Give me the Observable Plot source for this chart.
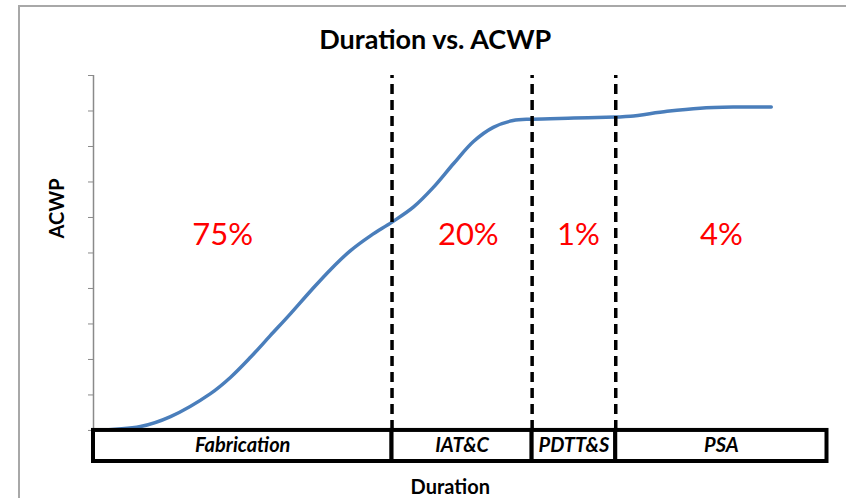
<!DOCTYPE html>
<html>
<head>
<meta charset="utf-8">
<script src="https://cdn.jsdelivr.net/npm/d3@7"></script>
<script src="https://cdn.jsdelivr.net/npm/@observablehq/plot@0.6"></script>
<style>
  html, body { margin: 0; padding: 0; background: #fff; }
  #wrap { position: relative; width: 846px; height: 498px; overflow: hidden; }
  #frame { position: absolute; left: 18px; top: 5px; width: 840px; height: 500px;
           border-top: 2px solid #a8a8a8; border-left: 2px solid #a8a8a8; box-sizing: border-box; }
  #chart { position: absolute; left: 0; top: 0; }
</style>
</head>
<body>
<div id="wrap"><div id="frame"></div><div id="chart"></div></div>
<script>
// Curve (duration in % of total span, ACWP in % of max axis)
const durationX = [0, 6.4, 10.5, 15.9, 18.7, 21.4, 24.1, 26.9, 29.6, 32.3, 35.0, 37.8, 40.7, 43.6, 46.3, 49.1, 51.8, 54.5, 57.2, 59.8, 65.5, 71.1, 73.2, 78.2, 82.7, 87.2, 92.4];
const acwpY     = [0, 1.1, 3.9, 10.3, 15.0, 20.6, 26.7, 33.0, 39.3, 45.3, 50.6, 54.9, 58.7, 62.9, 68.4, 75.2, 81.4, 85.4, 87.3, 87.7, 88.0, 88.3, 88.5, 89.9, 90.8, 91.1, 91.1];

// Phases
const phases     = ["Fabrication", "IAT&C", "PDTT&S", "PSA"];
const phaseStart = [0, 40.7, 59.8, 71.2];
const phaseEnd   = [40.7, 59.8, 71.2, 100];
const phaseShare = ["75%", "20%", "1%", "4%"];
const shareX     = [17.6, 51.1, 66.1, 85.6];
const shareY     = [55, 55, 55, 55];
const boundaries = [40.7, 59.8, 71.2];

const yTicks = [0, 10, 20, 30, 40, 50, 60, 70, 80, 90, 100];
const yMin = -8.75;

const curve = durationX.map((x, i) => ({x, y: acwpY[i]}));
const idx = phases.map((_, i) => i);

const font = "Lato, 'Open Sans', sans-serif";

const chart = Plot.plot({
  width: 846,
  height: 498,
  marginLeft: 93,
  marginRight: 19.5,
  marginTop: 75,
  marginBottom: 37,
  style: {fontFamily: font, background: "transparent", overflow: "visible"},
  x: {domain: [0, 100], axis: null},
  y: {domain: [yMin, 100]},
  marks: [
    Plot.axisY(yTicks, {tickSize: 5, tickFormat: () => "", stroke: "#8a8a8a", label: null}),
    Plot.ruleX([0], {y1: 0, y2: 100, stroke: "#8a8a8a", strokeWidth: 1.5}),
    Plot.line(curve, {x: "x", y: "y", curve: "catmull-rom", stroke: "#4a7ebb", strokeWidth: 3.5, strokeLinecap: "round"}),
    Plot.ruleX(boundaries, {y1: 0, y2: 100, stroke: "#000", strokeWidth: 3.5, strokeDasharray: "10,6"}),
    Plot.rect(idx, {x1: i => phaseStart[i], x2: i => phaseEnd[i], y1: () => yMin, y2: () => 0,
      fill: "#fff", stroke: "#000", strokeWidth: 4}),
    Plot.text(idx, {x: i => (phaseStart[i] + phaseEnd[i]) / 2, y: () => yMin / 2, text: i => phases[i],
      fontSize: 20, fontWeight: "bold", fontStyle: "italic", fill: "#000"}),
    Plot.text(idx, {x: i => shareX[i], y: i => shareY[i], text: i => phaseShare[i],
      fontSize: 31, fontWeight: "normal", fill: "#ff0000"}),
    Plot.text(["Duration vs. ACWP"], {frameAnchor: "top", lineAnchor: "middle", dx: -25, dy: -35,
      fontSize: 27, fontWeight: "bold", fill: "#000"}),
    Plot.text(["Duration"], {frameAnchor: "bottom", lineAnchor: "middle", dx: -10, dy: 26,
      fontSize: 20, fontWeight: "bold", fill: "#000"}),
    Plot.text(["ACWP"], {frameAnchor: "left", lineAnchor: "middle", rotate: -90, dx: -36, dy: -30,
      fontSize: 20, fontWeight: "bold", fill: "#000"})
  ]
});
document.getElementById("chart").appendChild(chart);
</script>
</body>
</html>
